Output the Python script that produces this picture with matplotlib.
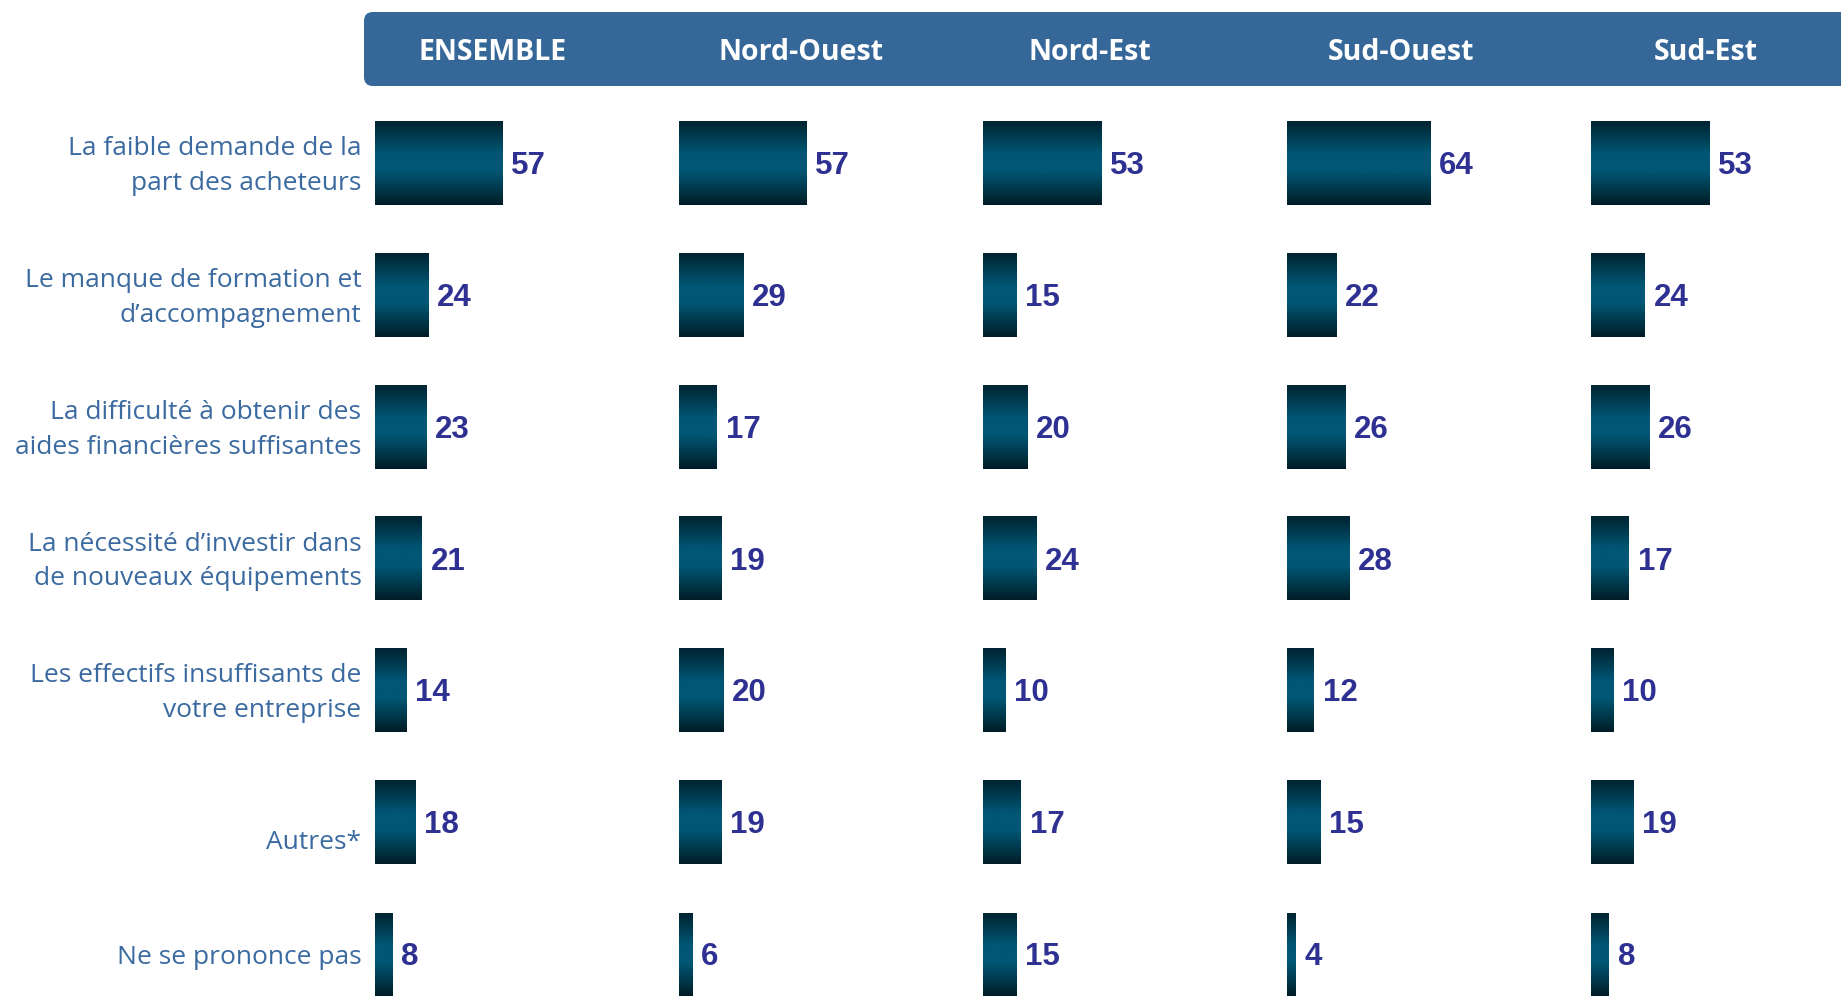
import numpy as np
import matplotlib.pyplot as plt
from matplotlib.colors import LinearSegmentedColormap
from matplotlib.patches import FancyBboxPatch

regions = ['ENSEMBLE', 'Nord-Ouest', 'Nord-Est', 'Sud-Ouest', 'Sud-Est']
categories = [
    'La faible demande de la\npart des acheteurs',
    'Le manque de formation et\nd\u2019accompagnement',
    'La difficult\u00e9 \u00e0 obtenir des\naides financi\u00e8res suffisantes',
    'La n\u00e9cessit\u00e9 d\u2019investir dans\nde nouveaux \u00e9quipements',
    'Les effectifs insuffisants de\nvotre entreprise',
    'Autres*',
    'Ne se prononce pas',
]
ensemble = [57, 24, 23, 21, 14, 18, 8]
nord_ouest = [57, 29, 17, 19, 20, 19, 6]
nord_est = [53, 15, 20, 24, 10, 17, 15]
sud_ouest = [64, 22, 26, 28, 12, 15, 4]
sud_est = [53, 24, 26, 17, 10, 19, 8]
series = [ensemble, nord_ouest, nord_est, sud_ouest, sud_est]

W, H = 1841, 996
unit_px = 2.235       # pixels per percentage point
col_w = 304.1
col_left = [374.5 + col_w * k for k in range(5)]
head_x = [493, 801, 1090, 1401, 1706]   # header label centres (px)
row0, row_step = 163.2, 131.9
bar_h = 0.63

# dark top / teal middle / dark bottom
cmap = LinearSegmentedColormap.from_list(
    'bar', [(0, '#002433'), (0.12, '#003345'), (0.38, '#005674'),
            (0.6, '#005674'), (0.88, '#002f3e'), (1, '#001c27')])
grad = np.linspace(0, 1, 100).reshape(-1, 1)

fig = plt.figure(figsize=(W / 100, H / 100), dpi=100)

# header band
hax = fig.add_axes([0, 0, 1, 1])
hax.set_xlim(0, W)
hax.set_ylim(H, 0)
hax.axis('off')
hax.add_patch(FancyBboxPatch((364, 12), 1700, 74,
                             boxstyle='round,pad=0,rounding_size=9',
                             fc='#356899', ec='none'))
for reg, hx in zip(regions, head_x):
    hax.text(hx, 52, reg, ha='center', va='center', fontsize=20.5,
             fontweight='bold', color='white', family='Open Sans')

for k, vals in enumerate(series):
    ax = fig.add_axes([col_left[k] / W, 0, col_w / W, 1])
    ax.axis('off')
    for i, v in enumerate(vals):
        # y axis is inverted, so the first gradient row lands at the top
        ax.imshow(grad, cmap=cmap, aspect='auto', origin='lower',
                  extent=(0, v, i - bar_h / 2, i + bar_h / 2), zorder=2)
        ax.text(v + 4.0, i + 0.02, str(v), ha='left', va='center',
                fontsize=22.5, fontweight='bold', color='#2e3192',
                family=['Liberation Sans Narrow', 'Liberation Sans'])
    ax.set_xlim(0, col_w / unit_px)
    ax.set_ylim((H - row0) / row_step, -row0 / row_step)
    if k == 0:
        for i, cat in enumerate(categories):
            lab = '\n' + cat if cat == 'Autres*' else cat
            ax.text(-13 / unit_px, i + 0.02, lab, ha='right', va='center',
                    fontsize=19, color='#3a6aa0', family='Open Sans',
                    linespacing=1.52, clip_on=False)

fig.savefig('out.png', dpi=100)
